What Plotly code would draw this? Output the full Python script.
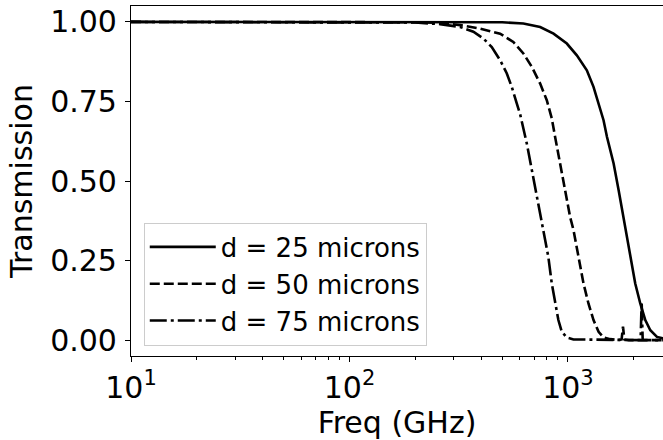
import plotly.graph_objects as go

# ---- data ----
freq_d25 = [10, 100, 300, 500, 625, 746, 859, 988, 1098, 1220, 1309, 1404, 1455, 1508,
            1618, 1706, 1796, 1828, 1928, 2032, 2143, 2259, 2382, 2555, 2735]
trans_d25 = [1.0, 1.0, 1.0, 0.999, 0.995, 0.984, 0.963, 0.932, 0.895, 0.848, 0.796, 0.723,
             0.691, 0.639, 0.555, 0.471, 0.387, 0.346, 0.262, 0.178, 0.115, 0.063, 0.031,
             0.010, 0.005]

freq_d50 = [10, 100, 200, 260, 321, 396, 489, 562, 625, 683, 746, 800, 843, 873, 920, 970,
            1023, 1060, 1117, 1178, 1241, 1309, 1381, 1455, 1561, 1700, 1760, 1786, 1812,
            1900, 2300, 2735]
trans_d50 = [1.0, 1.0, 0.999, 0.997, 0.990, 0.979, 0.963, 0.937, 0.901, 0.859, 0.806, 0.754,
             0.697, 0.639, 0.555, 0.471, 0.387, 0.346, 0.262, 0.178, 0.115, 0.063, 0.026,
             0.008, 0.003, 0.0, 0.002, 0.042, 0.002, 0.0, 0.0, 0.0]

freq_d75 = [10, 100, 200, 260, 321, 369, 410, 448, 489, 525, 553, 583, 604, 648, 683, 720,
            759, 772, 813, 843, 873, 904, 937, 988, 1060, 1500, 2120, 2150, 2174, 2198, 2230,
            2735]
trans_d75 = [1.0, 1.0, 0.998, 0.993, 0.984, 0.969, 0.948, 0.921, 0.880, 0.838, 0.796, 0.744,
             0.710, 0.618, 0.534, 0.450, 0.367, 0.346, 0.262, 0.178, 0.115, 0.063, 0.026,
             0.008, 0.002, 0.0, 0.0, 0.0, 0.12, 0.0, 0.0, 0.0]

series_names = ["d = 25 microns", "d = 50 microns", "d = 75 microns"]

y_tickvals = [0.0, 0.25, 0.5, 0.75, 1.0]
x_tickvals = [10, 100, 1000]
x_ticktext = ["10<sup>1</sup>", "10<sup>2</sup>", "10<sup>3</sup>"]
x_minor = [m * 10 ** k for k in (1, 2, 3) for m in range(2, 10)]

FONT = "DejaVu Sans"

fig = go.Figure()
fig.add_trace(go.Scatter(x=freq_d25, y=trans_d25, mode="lines", name=series_names[0],
                         line=dict(color="black", width=2.6, dash="solid")))
fig.add_trace(go.Scatter(x=freq_d50, y=trans_d50, mode="lines", name=series_names[1],
                         line=dict(color="black", width=2.6, dash="10px,4px")))
fig.add_trace(go.Scatter(x=freq_d75, y=trans_d75, mode="lines", name=series_names[2],
                         line=dict(color="black", width=2.6, dash="17px,4px,3px,4px")))

fig.update_layout(
    width=663, height=440,
    margin=dict(l=131, r=0, t=6, b=84),
    paper_bgcolor="white", plot_bgcolor="white",
    font=dict(family=FONT, size=30, color="black"),
    showlegend=True,
    legend=dict(
        x=0.024, y=0.03, xanchor="left", yanchor="bottom",
        bgcolor="rgba(255,255,255,0.8)", bordercolor="#cccccc", borderwidth=1,
        font=dict(family=FONT, size=26, color="black"),
        itemwidth=66, tracegroupgap=0,
    ),
    xaxis=dict(
        type="log", range=[1, 3.435], automargin=False,
        tickvals=x_tickvals, ticktext=x_ticktext,
        ticks="outside", ticklen=5, tickwidth=1.1, tickcolor="black",
        minor=dict(tickvals=x_minor, ticks="outside", ticklen=3, tickwidth=1, tickcolor="black",
                   showgrid=False),
        showgrid=False, zeroline=False,
        showline=True, linecolor="black", linewidth=1.1, mirror=True,
        title=dict(text="Freq (GHz)", font=dict(size=30), standoff=8),
        tickfont=dict(size=30),
    ),
    yaxis=dict(
        range=[-0.05, 1.05], automargin=False,
        tickvals=y_tickvals, tickformat=".2f",
        ticks="outside", ticklen=5, tickwidth=1.1, tickcolor="black",
        showgrid=False, zeroline=False,
        showline=True, linecolor="black", linewidth=1.1, mirror=False,
        title=dict(text="Transmission", font=dict(size=30), standoff=8),
        tickfont=dict(size=30),
        ticklabelstandoff=2,
    ),
)

fig.write_html(
    "out.html",
    config={"displayModeBar": False},
    post_script="document.body.style.margin='0';document.body.style.overflow='hidden';",
)
